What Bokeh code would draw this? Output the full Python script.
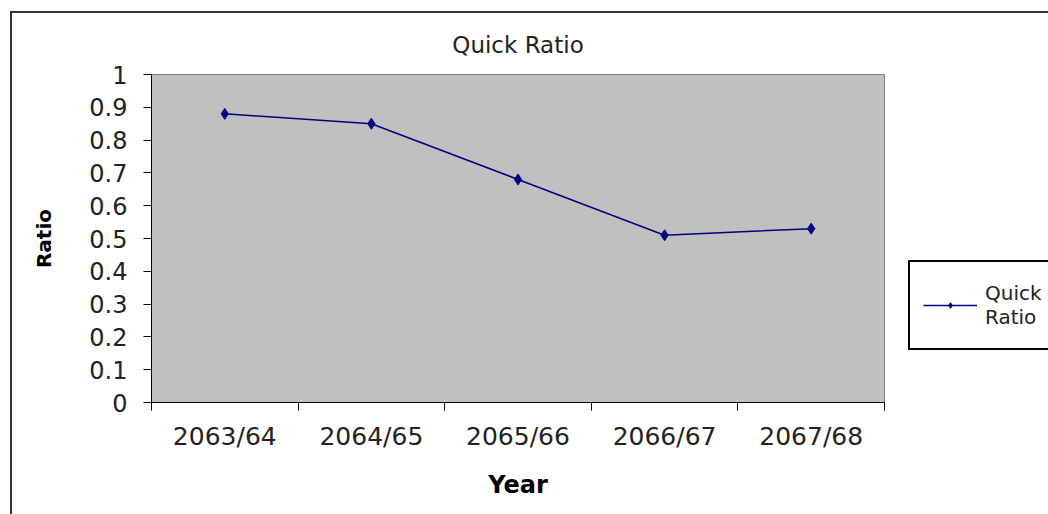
from bokeh.plotting import figure
from bokeh.models import FixedTicker, Legend, LegendItem, Range1d
from bokeh.embed import file_html
from bokeh.resources import INLINE

# Fiscal years (Nepali calendar) and the quick ratio for each
years = ["2063/64", "2064/65", "2065/66", "2066/67", "2067/68"]
quick_ratio = [0.88, 0.85, 0.68, 0.51, 0.53]

y_ticks = [0, 0.1, 0.2, 0.3, 0.4, 0.5, 0.6, 0.7, 0.8, 0.9, 1]
y_tick_labels = ["0", "0.1", "0.2", "0.3", "0.4", "0.5", "0.6", "0.7", "0.8", "0.9", "1"]

FONT = "DejaVu Sans"
NAVY = "#000080"
TEXT = "#222222"

# categories sit at the middle of each unit slot
x_pos = [i + 0.5 for i in range(len(years))]

p = figure(
    width=1036, height=501,
    frame_width=733, frame_height=328,
    min_border_left=139, min_border_right=164,
    min_border_top=61, min_border_bottom=112,
    x_range=Range1d(0, len(years)), y_range=Range1d(0, 1),
    output_backend="svg", toolbar_location=None,
    title="Quick Ratio",
    # chart-area frame: only its left and top edges fall inside the page
    styles={"margin-left": "10px", "margin-top": "11px",
            "border-left": "2px solid #333333",
            "border-top": "2px solid #333333"},
)

p.background_fill_color = "#C0C0C0"
p.border_fill_color = "white"
p.outline_line_color = "#808080"
p.outline_line_width = 1
p.xgrid.visible = False
p.ygrid.visible = False

p.title.align = "center"
p.title.text_font = FONT
p.title.text_font_style = "normal"
p.title.text_font_size = "23px"
p.title.text_color = TEXT
p.title.offset = 0
p.title.standoff = 33

# y axis
ya = p.yaxis[0]
ya.ticker = FixedTicker(ticks=y_ticks)
ya.major_label_overrides = {t: s for t, s in zip(y_ticks, y_tick_labels)}
ya.major_tick_in = 0
ya.major_tick_out = 8
ya.minor_tick_line_color = None
ya.axis_line_color = "black"
ya.major_tick_line_color = "black"
ya.major_label_text_font = FONT
ya.major_label_text_font_size = "24px"
ya.major_label_text_color = TEXT
ya.major_label_standoff = 16
ya.axis_label = "Ratio"
ya.axis_label_text_font = FONT
ya.axis_label_text_font_style = "bold"
ya.axis_label_text_font_size = "20px"
ya.axis_label_text_color = "black"
ya.axis_label_standoff = 30

# x axis: labels at slot centres, tick marks at slot boundaries
xa = p.xaxis[0]
xa.ticker = FixedTicker(ticks=x_pos, minor_ticks=list(range(len(years) + 1)))
xa.major_label_overrides = {t: s for t, s in zip(x_pos, years)}
xa.major_tick_line_color = None
xa.minor_tick_in = 0
xa.minor_tick_out = 8
xa.minor_tick_line_color = "black"
xa.axis_line_color = "black"
xa.major_label_text_font = FONT
xa.major_label_text_font_size = "25px"
xa.major_label_text_color = TEXT
xa.major_label_standoff = 11
xa.axis_label = "Year"
xa.axis_label_text_font = FONT
xa.axis_label_text_font_style = "bold"
xa.axis_label_text_font_size = "24px"
xa.axis_label_text_color = "black"
xa.axis_label_standoff = 17

line = p.line(x_pos, quick_ratio, line_color=NAVY, line_width=1.5)
pts = p.scatter(x_pos, quick_ratio, marker="diamond", size=11,
                fill_color=NAVY, line_color=NAVY)

legend = Legend(
    items=[LegendItem(label="Quick\nRatio", renderers=[line, pts])],
    location=(24, 52),
    glyph_width=54, glyph_height=14,
    label_height=60,
    label_text_font=FONT, label_text_font_size="20px",
    label_text_color=TEXT,
    label_standoff=8,
    padding=13, margin=0,
    border_line_color="black", border_line_width=2, border_line_alpha=1,
    background_fill_color="white", background_fill_alpha=1,
)
p.add_layout(legend, "right")

open("out.html", "w").write(file_html(p, INLINE))
